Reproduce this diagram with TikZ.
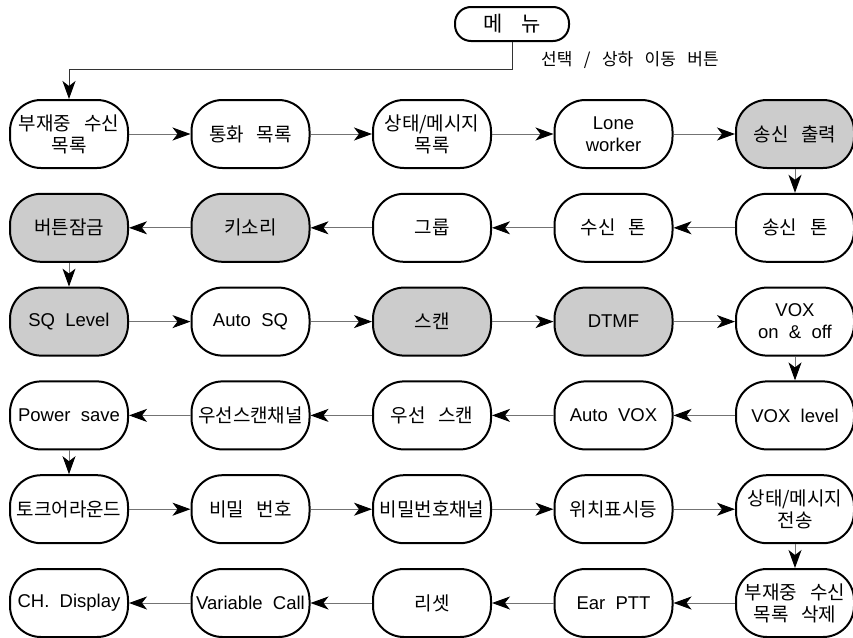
\documentclass[tikz,border=0pt]{standalone}
\usepackage{fontspec}
\setmainfont[WordSpace=2]{Liberation Sans}
\newfontfamily\kr[WordSpace=3]{Noto Sans CJK KR}
\usetikzlibrary{arrows.meta}
\tikzset{
  box/.style={draw=black, line width=2pt, rounded corners=31pt,
    minimum width=118pt, minimum height=68pt, inner sep=0pt, align=center,
    fill=white, font=\kr\fontsize{19}{22}\selectfont},
  grey/.style={fill=black!20},
  lat/.style={font=\normalfont\fontsize{18.5}{22}\selectfont},
  conn/.style={draw=black!55, line width=1pt,
    -{Stealth[length=18pt,width=13pt,inset=5pt,black]}}
}
\begin{document}
\begin{tikzpicture}[x=1pt,y=-1pt]
\useasboundingbox[fill=white] (0,0) rectangle (853,637);
% menu
\node[draw=black, line width=2pt, rounded corners=16pt, minimum width=114pt,
  minimum height=34pt, inner sep=1pt, font=\kr\fontsize{21}{24}\selectfont]
  (menu) at (512,24) {메\hspace{0.9em}뉴};
\node[anchor=west, inner sep=0pt, font=\kr\fontsize{17}{20}\selectfont]
  (lbl) at (541,60) {선택 / 상하 이동 버튼};
% row 1
\node[box] (n11) at (69,134) {부재중 수신\\목록};
\node[box] (n12) at (250.5,134) {통화 목록};
\node[box] (n13) at (432,134) {상태/메시지\\목록};
\node[box,lat] (n14) at (613.5,134) {Lone\\worker};
\node[box,grey] (n15) at (795,134) {송신 출력};
% row 2
\node[box] (n25) at (795,227.8) {송신 톤};
\node[box] (n24) at (613.5,227.8) {수신 톤};
\node[box] (n23) at (432,227.8) {그룹};
\node[box,grey] (n22) at (250.5,227.8) {키소리};
\node[box,grey] (n21) at (69,227.8) {버튼잠금};
% row 3
\node[box,grey,lat] (n31) at (69,321.6) {SQ Level};
\node[box,lat] (n32) at (250.5,321.6) {Auto SQ};
\node[box,grey] (n33) at (432,321.6) {스캔};
\node[box,grey,lat] (n34) at (613.5,321.6) {DTMF};
\node[box,lat] (n35) at (795,321.6) {VOX\\on \& off};
% row 4
\node[box,lat] (n45) at (795,415.4) {VOX level};
\node[box,lat] (n44) at (613.5,415.4) {Auto VOX};
\node[box] (n43) at (432,415.4) {우선 스캔};
\node[box] (n42) at (250.5,415.4) {우선스캔채널};
\node[box,lat] (n41) at (69,415.4) {Power save};
% row 5
\node[box] (n51) at (69,509.2) {토크어라운드};
\node[box] (n52) at (250.5,509.2) {비밀 번호};
\node[box] (n53) at (432,509.2) {비밀번호채널};
\node[box] (n54) at (613.5,509.2) {위치표시등};
\node[box] (n55) at (795,509.2) {상태/메시지\\전송};
% row 6
\node[box] (n65) at (795,603) {부재중 수신\\목록 삭제};
\node[box,lat] (n64) at (613.5,603) {Ear PTT};
\node[box] (n63) at (432,603) {리셋};
\node[box,lat] (n62) at (250.5,603) {Variable Call};
\node[box,lat] (n61) at (69,603) {CH. Display};
% connectors
\coordinate (bend) at (69,69);
\draw[conn, draw=black!80] (menu.south) |- (bend) -- (n11.north);
\draw[conn] (n11) -- (n12);
\draw[conn] (n12) -- (n13);
\draw[conn] (n13) -- (n14);
\draw[conn] (n14) -- (n15);
\draw[conn] (n15) -- (n25);
\draw[conn] (n25) -- (n24);
\draw[conn] (n24) -- (n23);
\draw[conn] (n23) -- (n22);
\draw[conn] (n22) -- (n21);
\draw[conn] (n21) -- (n31);
\draw[conn] (n31) -- (n32);
\draw[conn] (n32) -- (n33);
\draw[conn] (n33) -- (n34);
\draw[conn] (n34) -- (n35);
\draw[conn] (n35) -- (n45);
\draw[conn] (n45) -- (n44);
\draw[conn] (n44) -- (n43);
\draw[conn] (n43) -- (n42);
\draw[conn] (n42) -- (n41);
\draw[conn] (n41) -- (n51);
\draw[conn] (n51) -- (n52);
\draw[conn] (n52) -- (n53);
\draw[conn] (n53) -- (n54);
\draw[conn] (n54) -- (n55);
\draw[conn] (n55) -- (n65);
\draw[conn] (n65) -- (n64);
\draw[conn] (n64) -- (n63);
\draw[conn] (n63) -- (n62);
\draw[conn] (n62) -- (n61);
\end{tikzpicture}
\end{document}
